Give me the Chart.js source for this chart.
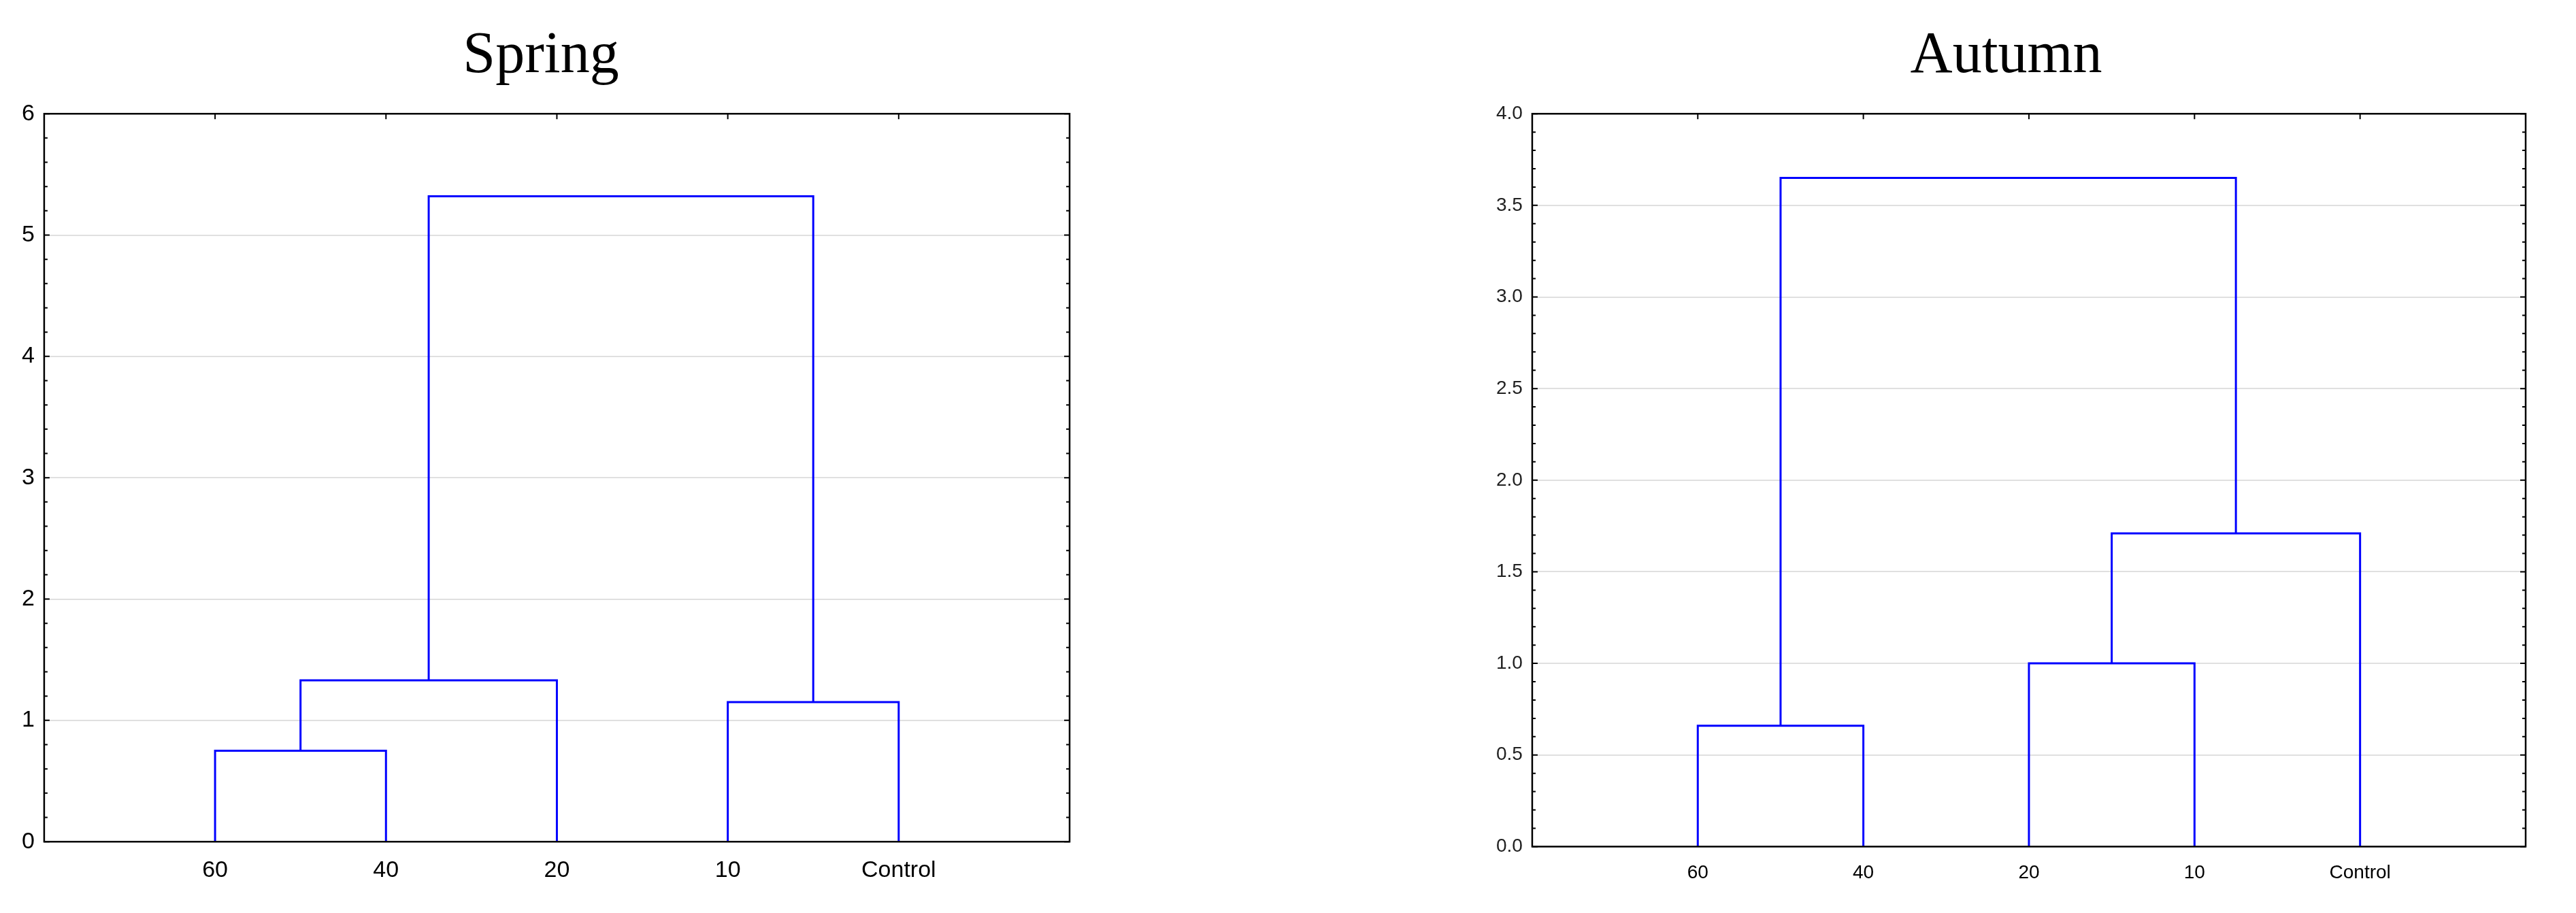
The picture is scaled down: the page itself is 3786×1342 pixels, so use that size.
<!DOCTYPE html>
<html><head><meta charset="utf-8">
<script src="https://cdn.jsdelivr.net/npm/chart.js@4"></script>
<style>body{margin:0;background:#fff;width:3786px;height:1342px;position:relative;overflow:hidden}
.c{position:absolute;top:0;height:1342px}</style></head>
<body>
<div class="c" style="left:0;width:1620px"><canvas id="a"></canvas></div>
<div class="c" style="left:2185px;width:1565px"><canvas id="b"></canvas></div>
<script>
const categories = ["60","40","20","10","Control"];
// merges: [leftNode, rightNode, height]; nodes 0-4 leaves, 5+ merged clusters
const springMerges = [[0,1,0.75],[5,2,1.33],[3,4,1.15],[6,7,5.32]];
const autumnMerges = [[0,1,0.66],[2,3,1.0],[6,4,1.71],[5,7,3.65]];
const springTicks = {max:6, step:1, minor:0.2, dec:0};
const autumnTicks = {max:4, step:0.5, minor:0.1, dec:1};

function linkData(merges){
  const pos = categories.map((c,i)=>({x:i+1,y:0}));
  const out=[];
  merges.forEach(([l,r,h])=>{
    const L=pos[l],R=pos[r];
    out.push([{x:L.x,y:L.y},{x:L.x,y:h},{x:R.x,y:h},{x:R.x,y:R.y}]);
    pos.push({x:(L.x+R.x)/2,y:h});
  });
  return out;
}
const frame = {id:'frame',afterDraw(ch,args,o){
  const a=ch.chartArea,c=ch.ctx,y=ch.scales.y,x=ch.scales.x;
  c.save();c.strokeStyle='#000';c.lineWidth=2.5;
  c.strokeRect(a.left,a.top,a.right-a.left,a.bottom-a.top);
  c.lineWidth=2;
  for(let v=0;v<=o.max+1e-9;v+=o.minor){const p=y.getPixelForValue(v);
    const big=Math.abs(v/o.step-Math.round(v/o.step))<1e-6;const L=big?8:5;
    c.beginPath();c.moveTo(a.left,p);c.lineTo(a.left+L,p);c.moveTo(a.right,p);c.lineTo(a.right-L,p);c.stroke();}
  for(let i=1;i<=5;i++){const p=x.getPixelForValue(i);
    c.beginPath();c.moveTo(p,a.top);c.lineTo(p,a.top+8);c.stroke();}
  c.restore();}};
function make(id,title,merges,t,fs,tc,padL,padR){
  new Chart(document.getElementById(id),{type:'scatter',
    data:{datasets:linkData(merges).map(d=>({data:d,showLine:true,borderColor:'#0000ff',borderWidth:3,pointRadius:0,fill:false}))},
    options:{responsive:true,maintainAspectRatio:false,animation:false,
      layout:{padding:{left:padL,right:padR,bottom:28,top:22}},
      plugins:{legend:{display:false},tooltip:{enabled:false},frame:t,
        title:{display:true,text:title,color:'#000',font:{family:'Liberation Serif',size:86,weight:'normal'},padding:{top:10,bottom:32}}},
      scales:{
        x:{type:'linear',min:0,max:6,grid:{display:false},border:{display:false},
          afterBuildTicks:s=>{s.ticks=categories.map((c,i)=>({value:i+1}));},
          ticks:{callback:v=>categories[v-1],color:'#000',font:{family:'Liberation Sans',size:fs},padding:14,maxRotation:0}},
        y:{min:0,max:t.max,grid:{color:'#e0e0e0',lineWidth:2,drawTicks:false},border:{display:false},
          ticks:{stepSize:t.step,color:tc,font:{family:'Liberation Sans',size:fs},padding:14,callback:v=>v.toFixed(t.dec)}}}},
    plugins:[frame]});
}
make('a','Spring',springMerges,springTicks,34,'#000',18,48);
make('b','Autumn',autumnMerges,autumnTicks,28,'#222',0,38);
</script></body></html>
